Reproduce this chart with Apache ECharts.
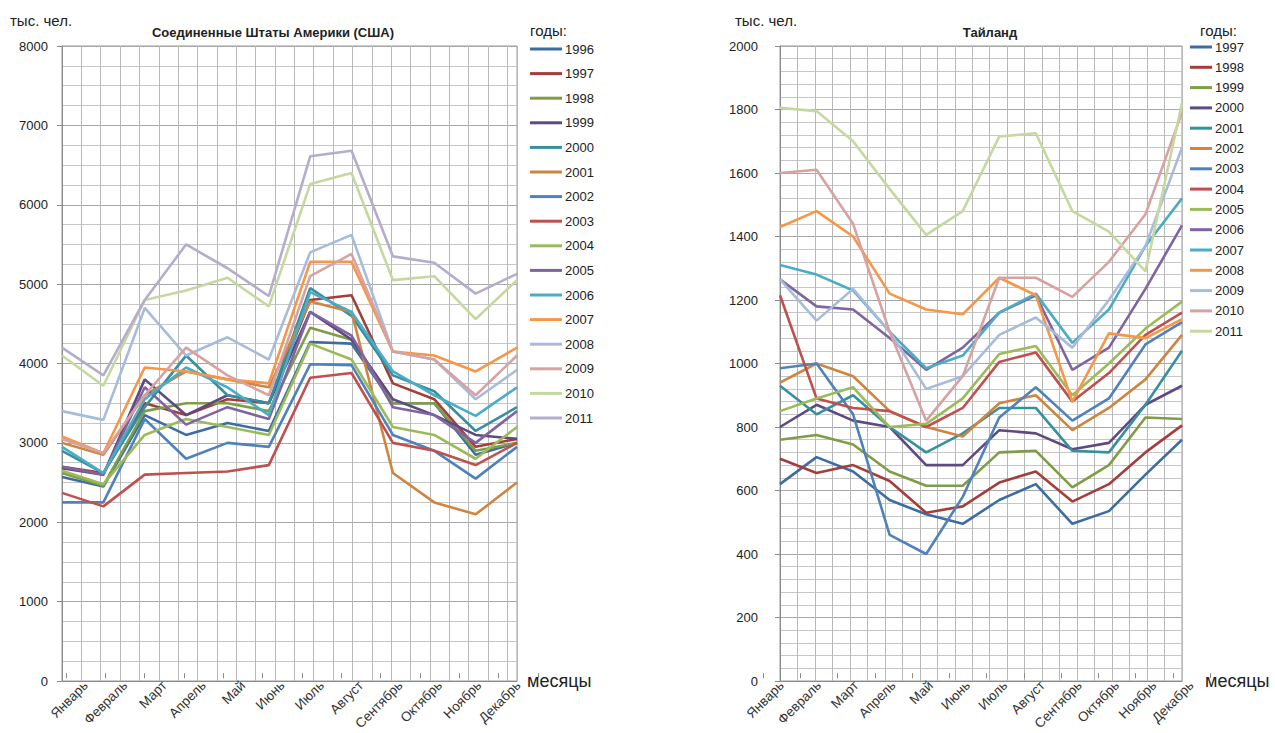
<!DOCTYPE html>
<html>
<head>
<meta charset="utf-8">
<script src="https://cdn.jsdelivr.net/npm/echarts@6/dist/echarts.min.js"></script>
<style>
html,body{margin:0;padding:0;background:#fff;}
#c{width:1275px;height:733px;}
</style>
</head>
<body>
<div id="c"></div>
<script>
// ---------- categories / ticks ----------
const months = ['Январь','Февраль','Март','Апрель','Май','Июнь','Июль','Август','Сентябрь','Октябрь','Ноябрь','Декабрь'];
const usYears = ['1996','1997','1998','1999','2000','2001','2002','2003','2004','2005','2006','2007','2008','2009','2010','2011'];
const thYears = ['1997','1998','1999','2000','2001','2002','2003','2004','2005','2006','2007','2008','2009','2010','2011'];

// ---------- USA, thousand people ----------
const us1996 = [2570,2450,3350,3100,3250,3150,4270,4250,3500,3500,2850,3000];
const us1997 = [2700,2620,3500,3350,3550,3500,4800,4860,3750,3550,2950,3050];
const us1998 = [2620,2460,3400,3500,3500,3400,4450,4300,3500,3500,2900,3000];
const us1999 = [2680,2600,3800,3350,3600,3500,4650,4300,3550,3350,3100,3050];
const us2000 = [2900,2620,3450,4100,3600,3500,4950,4600,3850,3650,3150,3450];
const us2001 = [3000,2850,3600,3900,3800,3700,4780,4650,2620,2250,2100,2500];
const us2002 = [2250,2250,3300,2800,3000,2950,3990,3980,3100,2900,2550,2950];
const us2003 = [2370,2200,2600,2620,2640,2720,3820,3880,3000,2900,2720,3000];
const us2004 = [2650,2480,3100,3300,3200,3100,4250,4050,3200,3100,2800,3200];
const us2005 = [2700,2600,3700,3230,3450,3300,4650,4350,3450,3350,3000,3400];
const us2006 = [2950,2620,3550,3950,3700,3350,4900,4650,3900,3600,3340,3700];
const us2007 = [3080,2870,3950,3900,3800,3750,5280,5280,4150,4100,3900,4200];
const us2008 = [3400,3290,4700,4100,4330,4050,5400,5620,4150,4050,3550,3920];
const us2009 = [3050,2870,3600,4200,3850,3600,5100,5380,4150,4050,3600,4100];
const us2010 = [4100,3720,4800,4920,5080,4720,6260,6400,5050,5100,4560,5050];
const us2011 = [4200,3850,4800,5500,5200,4850,6610,6680,5350,5270,4880,5130];
const usValues = [us1996,us1997,us1998,us1999,us2000,us2001,us2002,us2003,us2004,us2005,us2006,us2007,us2008,us2009,us2010,us2011];

// ---------- Thailand, thousand people ----------
const th1997 = [620,705,660,570,525,495,570,620,495,535,650,760];
const th1998 = [700,655,680,630,530,550,625,660,565,620,720,805];
const th1999 = [760,775,745,660,615,615,720,725,610,680,830,825];
const th2000 = [800,870,820,800,680,680,790,780,730,750,870,930];
const th2001 = [930,840,900,800,720,780,860,860,725,720,870,1040];
const th2002 = [940,1000,960,850,800,770,875,900,790,860,950,1090];
const th2003 = [985,1000,840,460,400,580,830,925,820,890,1060,1130];
const th2004 = [1215,890,860,850,800,860,1005,1035,880,970,1090,1160];
const th2005 = [850,890,925,800,810,890,1030,1055,900,1000,1110,1195];
const th2006 = [1265,1180,1170,1080,980,1050,1160,1215,980,1050,1235,1435];
const th2007 = [1310,1280,1230,1100,985,1025,1160,1220,1065,1170,1370,1520];
const th2008 = [1430,1480,1400,1220,1170,1155,1270,1215,880,1095,1080,1140];
const th2009 = [1265,1135,1235,1100,920,960,1090,1145,1050,1200,1370,1680];
const th2010 = [1600,1610,1440,1100,820,960,1270,1270,1210,1320,1470,1790];
const th2011 = [1805,1795,1700,1550,1405,1480,1715,1725,1480,1415,1290,1820];
const thValues = [th1997,th1998,th1999,th2000,th2001,th2002,th2003,th2004,th2005,th2006,th2007,th2008,th2009,th2010,th2011];

// ---------- styles ----------
const palette = ['#3D6CA3','#A33E3B','#7F9D45','#5E4A80','#36909F','#CF8440','#4F81BD','#C0504D','#9BBB59','#8064A2','#4BACC6','#F79646','#A7BBDA','#D7A2A1','#C5D8A0','#B6ACCB'];
const FONT = '"Liberation Sans", Arial, sans-serif';

const series = [];
usYears.forEach((y,i)=>{
  series.push({name:'US '+y, type:'line', xAxisIndex:0, yAxisIndex:0, data:usValues[i],
    showSymbol:false, symbol:'none', lineStyle:{width:2.6, color:palette[i]}, itemStyle:{color:palette[i]}, z:3});
});
thYears.forEach((y,i)=>{
  series.push({name:'TH '+y, type:'line', xAxisIndex:3, yAxisIndex:2, data:thValues[i],
    showSymbol:false, symbol:'none', lineStyle:{width:2.6, color:palette[i]}, itemStyle:{color:palette[i]}, z:3});
});

function plotX(grid, max){
  return [
    {gridIndex:grid, type:'category', boundaryGap:false, data:months,
     axisLabel:{show:false}, axisTick:{show:false},
     axisLine:{show:true, lineStyle:{color:'#8a8a8a', width:1}}, splitLine:{show:false}},
    {gridIndex:grid, type:'value', min:0, max:max, interval:1, position:'top',
     axisLine:{show:false}, axisTick:{show:false}, axisLabel:{show:false},
     splitLine:{show:true, lineStyle:{color:'#b8b8b8', width:1}}}
  ];
}
function labelX(grid){
  return {gridIndex:grid, type:'category', boundaryGap:true, data:months,
    axisLine:{show:false}, axisTick:{show:true, length:5, lineStyle:{color:'#8a8a8a'}},
    axisLabel:{rotate:45, fontSize:13.5, color:'#333', margin:10, fontFamily:FONT, interval:0},
    splitLine:{show:false}};
}
function plotY(grid, max, interval, minor, margin){
  return {gridIndex:grid, type:'value', min:0, max:max, interval:interval,
    axisLine:{show:true, lineStyle:{color:'#8a8a8a'}},
    axisTick:{show:true, length:5, lineStyle:{color:'#8a8a8a'}},
    axisLabel:{fontSize:13, color:'#222', margin:margin, fontFamily:FONT, formatter:v=>String(v)},
    splitLine:{show:true, lineStyle:{color:'#a8a8a8', width:1}},
    minorTick:{show:false, splitNumber:minor},
    minorSplitLine:{show:true, lineStyle:{color:'#c6c6c6', width:1}}};
}
function hiddenY(grid){
  return {gridIndex:grid, type:'value', min:0, max:1, show:false, splitLine:{show:false}};
}
function legend(names, left, top, iw, gap){
  return {data:names, orient:'vertical', left:left, top:top, icon:'rect',
    itemWidth:iw, itemHeight:3, itemGap:gap, padding:5,
    formatter:n=>n.split(' ')[1],
    textStyle:{fontSize:13, color:'#222', lineHeight:16, fontFamily:FONT, padding:[0,0,0,-2]}};
}
function txt(x,y,text,size,weight,align){
  return {type:'text', x:x, y:y, style:{text:text, font:(weight||'normal')+' '+size+'px '+FONT,
    fill:'#222', textAlign:align||'left', textVerticalAlign:'middle'}};
}

const option = {
  animation:false,
  backgroundColor:'#fff',
  textStyle:{fontFamily:FONT},
  grid:[
    {left:62, top:46, width:455, height:635, show:true, borderColor:'#9a9a9a', borderWidth:1, backgroundColor:'transparent'},
    {left:66, top:46, width:472, height:635},
    {left:780, top:46, width:402, height:635, show:true, borderColor:'#9a9a9a', borderWidth:1, backgroundColor:'transparent'},
    {left:763, top:46, width:447, height:635}
  ],
  xAxis:[].concat(plotX(0,23.5), [labelX(1)], plotX(2,23), [labelX(3)]),
  yAxis:[plotY(0,8000,1000,4,14), hiddenY(1), plotY(2,2000,200,5,22), hiddenY(3)],
  legend:[
    legend(usYears.map(y=>'US '+y), 525, 36, 32, 8.6),
    legend(thYears.map(y=>'TH '+y), 1185, 34, 22, 4.3)
  ],
  graphic:[
    txt(10,20,'тыс. чел.',15),
    txt(273,32,'Соединенные Штаты Америки (США)',13,'bold','center'),
    txt(530,30,'годы:',15),
    txt(527,681,'месяцы',18),
    txt(735,20,'тыс. чел.',15),
    txt(990,32,'Тайланд',13,'bold','center'),
    txt(1200,30,'годы:',15),
    txt(1205,681,'месяцы',18)
  ],
  series:series
};

const chart = echarts.init(document.getElementById('c'), null, {renderer:'svg'});
chart.setOption(option);
</script>
</body>
</html>
